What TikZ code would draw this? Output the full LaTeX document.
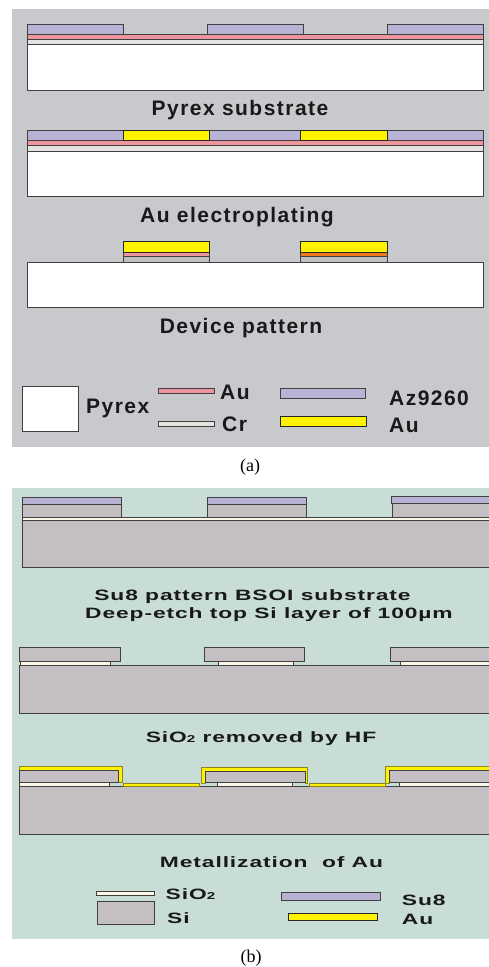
\documentclass[tikz,border=0pt]{standalone}
\usepackage{fontspec}
\setmainfont{Liberation Sans}
\newfontfamily\capfont{Liberation Serif}
\newfontfamily\stepfont[LetterSpace=7]{Liberation Sans Bold}
\newfontfamily\widefont[LetterSpace=6,FakeStretch=1.52]{Liberation Sans Bold}
\tikzset{
	layer/.style={draw=black!75,line width=1pt},
	resist/.style={layer,fill=resistcol},
	gold/.style={layer,draw=black!85,fill=yellow},
	pink/.style={layer,fill=pinkcol},
	chrome/.style={layer,fill=chromecol},
	pyrex/.style={layer,fill=white},
	silicon/.style={layer,fill=sicol},
	oxide/.style={layer,fill=oxidecol},
	goldcap/.style={draw=olivecol,line width=0.7pt,fill=yellow},
	steplabel/.style={inner sep=0pt,font=\stepfont\fontsize{21}{21}\selectfont,text=black!90},
	widelabel/.style={inner sep=0pt,font=\widefont\fontsize{15}{15}\selectfont,text=black!90},
	keylabel/.style={steplabel,anchor=west},
	widekey/.style={widelabel,anchor=west},
	panelcap/.style={inner sep=0pt,font=\capfont\fontsize{18}{18}\selectfont}
}
\definecolor{resistcol}{HTML}{B8B2D4}
\definecolor{pinkcol}{HTML}{EF959D}
\definecolor{chromecol}{HTML}{E4E4E0}
\definecolor{sicol}{HTML}{C4BFC3}
\definecolor{oxidecol}{HTML}{FBF8E8}
\definecolor{panela}{HTML}{C8C9CD}
\definecolor{panelb}{HTML}{C8DDD5}
\definecolor{orangecol}{HTML}{EE7A1E}
\definecolor{olivecol}{HTML}{8A8520}
\begin{document}
\begin{tikzpicture}[x=1pt,y=-1pt]
	\useasboundingbox (0,0) rectangle (489,967);
	%\draw [help lines,step=50] (0,0) grid (489,967);
	\fill[panela] (12,9) rectangle (489,447);
	\fill[panelb] (12,488) rectangle (489,939);
	% panel a, first step
	\draw[pyrex] (27,44.5) rectangle (483,90);
	\draw[chrome] (27,39.5) rectangle (483,44.5);
	\draw[pink] (27,34.5) rectangle (483,39.5);
	\foreach \xa/\xb in {27/123,207/303,387/483}
		\draw[resist] (\xa,24) rectangle (\xb,34.5);
	\node[steplabel] (pyrexstep) at (240,110) {Pyrex substrate};
	% panel a, second step
	\draw[pyrex] (27,151) rectangle (483,196.5);
	\draw[chrome] (27,145.5) rectangle (483,151);
	\draw[pink] (27,140.5) rectangle (483,145.5);
	\foreach \xa/\xb in {27/123,209/300.5,387/483}
		\draw[resist] (\xa,130.5) rectangle (\xb,140.5);
	\foreach \xa/\xb in {123/209,300.5/387}
		\draw[gold] (\xa,130.5) rectangle (\xb,140.5);
	\node[steplabel] (platingstep) at (237,217) {Au electroplating};
	% panel a, third step
	\draw[pyrex] (27,262) rectangle (483,307.7);
	\draw[chrome,fill=black!25] (123,256.7) rectangle (209,262);
	\draw[pink] (123,252) rectangle (209,256.7);
	\draw[gold] (123,241.7) rectangle (209,252);
	\draw[chrome,fill=black!25] (300.5,256.7) rectangle (387,262);
	\draw[pink,fill=orangecol] (300.5,252) rectangle (387,256.7);
	\draw[gold] (300.5,241.7) rectangle (387,252);
	\node[steplabel] (devicestep) at (241,328) {Device pattern};
	% panel a, key
	\draw[pyrex] (22,386) rectangle (78,431.7);
	\node[keylabel] (pyrexkey) at (86,408) {Pyrex};
	\draw[pink] (158.5,388.7) rectangle (214.5,393.7);
	\node[keylabel] (aukey) at (220,392) {Au};
	\draw[chrome] (158.5,421.3) rectangle (214.5,426.7);
	\node[keylabel] (crkey) at (222,424) {Cr};
	\draw[resist] (280,388.7) rectangle (365,398.7);
	\node[keylabel] (azkey) at (389,398) {Az9260};
	\draw[gold] (280,416.7) rectangle (366.5,426.7);
	\node[keylabel] (goldkey) at (389,425) {Au};
	\node[panelcap] (capa) at (250,467) {(a)};
	% panel b, first step
	\draw[silicon] (22,520.7) rectangle (495,567.7);
	\draw[oxide] (22,517.3) rectangle (495,520.7);
	\draw[silicon] (22,504) rectangle (121.5,517.3);
	\draw[resist] (22,497) rectangle (121.5,504);
	\draw[silicon] (207,504) rectangle (306.5,517.3);
	\draw[resist] (207,497) rectangle (306.5,504);
	\draw[silicon] (392.5,503.3) rectangle (495,517.3);
	\draw[resist] (391.5,496) rectangle (495,503.3);
	\node[widelabel] (su8step) at (252.5,597) {Su8 pattern BSOI substrate};
	\node[widelabel] (etchstep) at (269,615) {Deep-etch top Si layer of 100µm};
	% panel b, second step
	\draw[silicon] (19.7,665.7) rectangle (495,713.3);
	\foreach \xa/\xb in {19.7/120,204.5/304.7,390/495}
		\draw[silicon] (\xa,647.7) rectangle (\xb,661.3);
	\foreach \xa/\xb in {20/110,218.7/293.7,400/495}
		\draw[oxide] (\xa,661.3) rectangle (\xb,665.7);
	\node[widelabel] (hfstep) at (261,739) {SiO{\fontsize{10}{10}\selectfont 2} removed by HF};
	% panel b, third step
	\draw[silicon] (19,786.3) rectangle (495,834);
	\foreach \xa/\xb in {19.3/109,217.3/292.3,399/495}
		\draw[oxide] (\xa,782.3) rectangle (\xb,786.3);
	\foreach \xa/\xb in {123.3/199,309.3/385}
		\draw[goldcap] (\xa,783.5) rectangle (\xb,786.3);
	\draw[goldcap] (19,766.5) -- (122.8,766.5) -- (122.8,782.5) -- (118.5,782.5) -- (118.5,770.5) -- (19,770.5) -- cycle;
	\draw[silicon] (19.7,770.5) rectangle (118.5,782);
	\draw[goldcap] (201.3,783) -- (201.3,767) -- (307.7,767) -- (307.7,783) -- (305,783) -- (305,771) -- (205.3,771) -- (205.3,783) -- cycle;
	\draw[silicon] (205.3,771) rectangle (305,782);
	\draw[goldcap] (495,766.5) -- (385.3,766.5) -- (385.3,783) -- (389.3,783) -- (389.3,770.5) -- (495,770.5) -- cycle;
	\draw[silicon] (389.3,770.5) rectangle (495,782);
	\node[widelabel] (metalstep) at (271.5,862) {Metallization\ \ of Au};
	% panel b, key
	\draw[oxide] (96.7,891) rectangle (154,895.7);
	\node[widekey] (sio2key) at (165.5,894.5) {SiO{\fontsize{10}{10}\selectfont 2}};
	\draw[silicon] (97,901.7) rectangle (154.3,924.3);
	\node[widekey] (sikey) at (167,918) {Si};
	\draw[resist] (281,892.3) rectangle (380.5,900);
	\node[widekey] (su8key) at (401.7,900) {Su8};
	\draw[gold] (288.3,913.3) rectangle (377.7,920.7);
	\node[widekey] (aubkey) at (401.7,919.5) {Au};
	\node[panelcap] (capb) at (251,957.7) {(b)};
\end{tikzpicture}
\end{document}
